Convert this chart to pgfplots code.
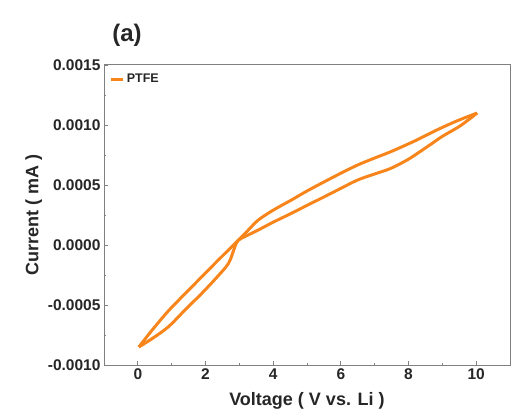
\documentclass[border=0pt]{standalone}
\usepackage{pgfplots}
\pgfplotsset{compat=1.18}
\usepackage{fontspec}
\setmainfont{Liberation Sans}
\usetikzlibrary{calc}
\definecolor{cvorange}{RGB}{247,133,28}

\begin{document}
\begin{tikzpicture}
  \begin{axis}[
    name=ax,
    scale only axis, width=406bp, height=300bp,
    xmin=-1, xmax=11, ymin=-0.001, ymax=0.0015,
    xtick={0,2,...,10}, minor x tick num=1,
    ytick={-0.001,-0.0005,0,0.0005,0.001,0.0015}, minor y tick num=1,
    scaled y ticks=false,
    yticklabel style={/pgf/number format/.cd, fixed, fixed zerofill, precision=4},
    /pgf/number format/assume math mode=true,
    tick align=inside, xtick pos=lower, ytick pos=left,
    major tick length=4bp, minor tick length=2bp,
    axis line style={gray, line width=1pt},
    tick style={gray, line width=0.8pt},
    tick label style={font=\fontsize{15.5bp}{18bp}\selectfont\bfseries, text=black!85},
    label style={font=\fontsize{18bp}{21bp}\selectfont\bfseries, text=black!85},
    xlabel={Voltage ( V vs. Li )},
    ylabel={Current ( mA )},
    xlabel style={yshift=-6bp},
    ylabel style={yshift=-1bp},
    legend style={draw=none, fill=none, at={(0.01,0.98)}, anchor=north west,
      font=\fontsize{12.5bp}{14bp}\selectfont\bfseries, text=black!85,
      inner sep=1pt},
    legend cell align=left,
    legend image code/.code={\draw[#1, line width=2.8pt] (0cm,0cm) -- (0.45cm,0cm);},
  ]
    % upper edge of the loop, 0 V to 10 V
    \addplot[cvorange, line width=3pt, smooth, tension=0.5] coordinates {
      (0.03,-0.00085) (0.42,-0.00071) (0.90,-0.000550) (1.40,-0.000405)
      (1.90,-0.000262) (2.38,-0.000125) (2.97,0.00004) (3.25,0.00012)
      (3.56,0.000208) (4.00,0.000290) (4.54,0.000375) (5.00,0.000450)
      (5.52,0.000528) (6.00,0.000598) (6.50,0.000667) (7.00,0.000725)
      (7.48,0.000778) (8.17,0.000865) (8.85,0.000960) (9.44,0.001035)
      (10.03,0.0011)
    };
    \addlegendentry{PTFE}
    % lower edge of the loop, 10 V back to 0 V
    \addplot[cvorange, line width=3pt, smooth, tension=0.5, forget plot] coordinates {
      (10.03,0.0011) (9.54,0.000995) (9.00,0.000905) (8.56,0.000820)
      (8.00,0.000715) (7.48,0.000639) (7.00,0.000592) (6.50,0.000542)
      (6.00,0.000472) (5.52,0.000403) (5.00,0.000330) (4.54,0.000264)
      (4.00,0.000190) (3.56,0.000125) (3.20,0.000075) (2.97,0.00004)
      (2.87,-0.000014) (2.68,-0.000153) (2.30,-0.000280) (1.89,-0.000403)
      (1.40,-0.000540) (0.91,-0.00068) (0.45,-0.000775) (0.03,-0.00085)
    };
  \end{axis}
  \node[font=\fontsize{24bp}{28bp}\selectfont\bfseries, text=black!85, anchor=base]
    at ($(ax.north west)+(23bp,23bp)$) {(a)};
  \path[use as bounding box] ($(ax.south west)+(-104bp,-48bp)$) rectangle ($(ax.north east)+(1bp,65bp)$);
\end{tikzpicture}
\end{document}
